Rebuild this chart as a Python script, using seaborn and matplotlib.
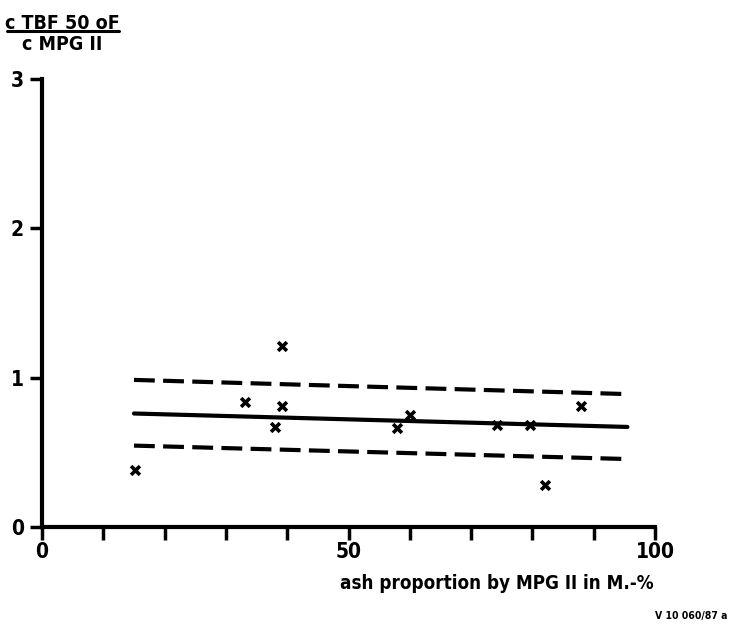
import numpy as np
import pandas as pd
import matplotlib
matplotlib.use("Agg")
import matplotlib.pyplot as plt
import seaborn as sns

# ── Data ─────────────────────────────────────────────────────────────────────
ash_share = [15.2, 33.1, 38.0, 39.1, 39.1, 57.9, 60.0, 74.2, 79.6, 82.1, 88.0]
ratio     = [0.38, 0.84, 0.67, 0.81, 1.21, 0.66, 0.75, 0.68, 0.68, 0.28, 0.81]

fit_x     = [15.0, 95.5]
fit_mean  = [0.76, 0.67]
fit_upper = [0.985, 0.89]
fit_lower = [0.545, 0.455]

x_major = [0, 50, 100]
x_minor = [10, 20, 30, 40, 60, 70, 80, 90]
y_major = [0, 1, 2, 3]

sns.set_style("ticks")
plt.rcParams["font.family"] = ["DejaVu Sans"]
plt.rcParams["font.weight"] = "bold"
plt.rcParams["font.stretch"] = "condensed"
plt.rcParams["text.color"] = "black"
plt.rcParams["xtick.color"] = "black"
plt.rcParams["ytick.color"] = "black"
plt.rcParams["xtick.labelcolor"] = "black"
plt.rcParams["ytick.labelcolor"] = "black"

fig = plt.figure(figsize=(7.32, 6.27), dpi=100)
ax = fig.add_axes([0.0574, 0.1595, 0.8374, 0.7145])

pts = pd.DataFrame({"x": ash_share, "y": ratio})
lines = pd.DataFrame({
    "x": fit_x * 3,
    "y": fit_mean + fit_upper + fit_lower,
    "kind": ["mean"] * 2 + ["upper"] * 2 + ["lower"] * 2,
})

sns.lineplot(data=lines, x="x", y="y", style="kind", units="kind",
             estimator=None, color="black", linewidth=3, legend=False,
             dashes={"mean": "", "upper": (5, 2), "lower": (5, 2)}, ax=ax)
sns.scatterplot(data=pts, x="x", y="y", marker="x", s=40, linewidth=2.6,
                color="black", ax=ax, zorder=5)

ax.set_xlim(0, 100)
ax.set_ylim(0, 3)
ax.set_xticks(x_major)
ax.set_xticks(x_minor, minor=True)
ax.set_yticks(y_major)
ax.tick_params(axis="both", which="major", length=9, width=2.5,
               labelsize=15, color="black", labelcolor="black")
ax.tick_params(axis="x", which="minor", length=9, width=2.5, color="black")
ax.tick_params(axis="x", pad=2)
ax.tick_params(axis="y", pad=4)
for s in ["top", "right"]:
    ax.spines[s].set_visible(False)
for s in ["left", "bottom"]:
    ax.spines[s].set_linewidth(3)
    ax.spines[s].set_color("black")
ax.set_xlabel("")
ax.set_ylabel("")

# y-axis label as a fraction at top-left
fig.text(0.085, 0.978, "c TBF 50 oF", ha="center", va="top", fontsize=14)
fig.add_artist(plt.Line2D([0.009, 0.162], [0.951, 0.951], color="black",
                          linewidth=2.2, transform=fig.transFigure))
fig.text(0.085, 0.944, "c MPG II", ha="center", va="top", fontsize=14)

fig.text(0.893, 0.070, "ash proportion by MPG II in M.-%", ha="right",
         va="center", fontsize=13.5)
fig.text(0.993, 0.018, "V 10 060/87 a", ha="right", va="center", fontsize=7.5)

fig.savefig("out.png", dpi=100, facecolor="white")
